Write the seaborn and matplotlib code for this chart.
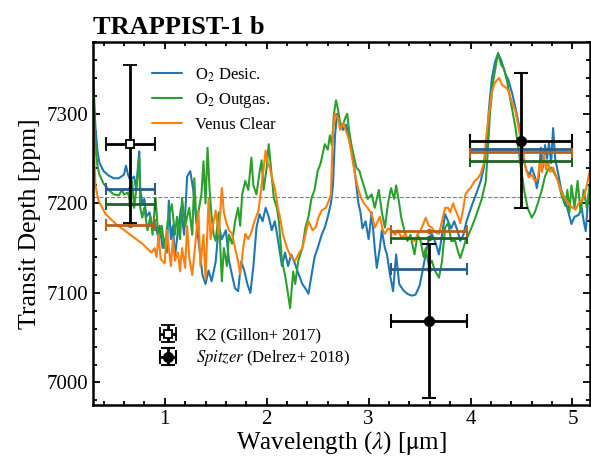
import numpy as np
import pandas as pd
import matplotlib
matplotlib.use("Agg")
import matplotlib.pyplot as plt
from matplotlib.ticker import MultipleLocator
import seaborn as sns

# ---------------- data ----------------
lam_desic = [0.30,0.31,0.32,0.34,0.36,0.40,0.45,0.50,0.55,0.60,0.62,0.64,0.66,0.70,0.72,0.74,0.75,0.76,0.78,0.80,
             0.82,0.85,0.88,0.90,0.93,0.95,0.98,1.00,1.02,1.04,1.06,1.08,1.10,1.13,1.16,1.19,1.22,1.25,1.28,1.31,
             1.34,1.37,1.40,1.43,1.46,1.50,1.53,1.56,1.60,1.63,1.66,1.69,1.72,1.75,1.78,1.81,1.84,1.87,1.90,1.93,
             1.96,1.99,2.02,2.05,2.08,2.11,2.15,2.18,2.21,2.24,2.27,2.31,2.35,2.38,2.41,2.44,2.47,2.50,2.54,2.57,
             2.60,2.63,2.65,2.67,2.69,2.72,2.75,2.78,2.81,2.84,2.87,2.90,2.92,2.94,2.97,3.00,3.03,3.06,3.08,3.11,
             3.13,3.16,3.18,3.21,3.24,3.27,3.30,3.34,3.38,3.42,3.46,3.50,3.53,3.56,3.59,3.62,3.66,3.69,3.72,3.75,
             3.78,3.81,3.84,3.87,3.90,3.93,3.96,3.99,4.02,4.06,4.10,4.13,4.16,4.18,4.21,4.24,4.27,4.30,4.34,4.37,
             4.41,4.44,4.47,4.50,4.53,4.55,4.58,4.60,4.63,4.65,4.67,4.69,4.71,4.73,4.75,4.77,4.79,4.81,4.83,4.86,
             4.89,4.93,4.96,4.99,5.02,5.06,5.09,5.11,5.13,5.15,5.17]
depth_desic = [7340,7310,7285,7258,7245,7236,7231,7228,7228,7232,7242,7232,7226,7230,7215,7245,7258,7215,7200,7205,
               7185,7190,7172,7180,7165,7175,7150,7160,7145,7203,7160,7175,7140,7170,7195,7165,7230,7236,7215,7180,
               7150,7120,7110,7125,7113,7135,7175,7160,7170,7136,7120,7105,7102,7135,7125,7110,7100,7130,7173,7188,
               7180,7195,7185,7170,7180,7160,7130,7145,7130,7143,7135,7122,7110,7105,7099,7120,7140,7150,7165,7173,
               7185,7200,7220,7275,7300,7290,7282,7288,7270,7255,7230,7200,7190,7172,7180,7160,7190,7150,7128,7150,
               7170,7150,7143,7120,7102,7143,7110,7103,7099,7097,7098,7108,7125,7143,7160,7166,7155,7143,7165,7188,
               7180,7172,7180,7170,7158,7165,7180,7190,7200,7212,7225,7240,7270,7305,7340,7358,7367,7360,7345,7338,
               7322,7307,7290,7268,7245,7236,7232,7240,7230,7217,7230,7262,7240,7265,7250,7268,7245,7284,7250,7233,
               7215,7203,7190,7177,7185,7187,7195,7180,7169,7200,7221]

lam_outgas = [0.30,0.31,0.32,0.34,0.36,0.40,0.45,0.50,0.55,0.58,0.60,0.64,0.66,0.68,0.70,0.72,0.74,0.75,0.76,0.78,
              0.80,0.83,0.86,0.88,0.91,0.94,0.97,1.00,1.03,1.07,1.10,1.12,1.15,1.17,1.20,1.24,1.27,1.29,1.31,1.33,
              1.36,1.38,1.40,1.42,1.44,1.46,1.48,1.50,1.53,1.56,1.58,1.61,1.63,1.66,1.69,1.72,1.74,1.76,1.79,1.82,
              1.85,1.87,1.90,1.93,1.95,1.97,2.00,2.02,2.05,2.07,2.10,2.12,2.15,2.18,2.20,2.23,2.26,2.28,2.31,2.35,
              2.38,2.41,2.44,2.47,2.50,2.53,2.57,2.60,2.62,2.64,2.66,2.68,2.70,2.72,2.74,2.77,2.79,2.81,2.83,2.86,
              2.88,2.91,2.93,2.96,2.99,3.03,3.06,3.10,3.13,3.16,3.19,3.22,3.25,3.27,3.30,3.32,3.35,3.38,3.41,3.45,
              3.48,3.51,3.54,3.56,3.59,3.62,3.65,3.69,3.72,3.75,3.78,3.81,3.85,3.88,3.90,3.93,3.95,3.98,4.01,4.05,
              4.08,4.11,4.15,4.17,4.19,4.22,4.25,4.27,4.30,4.33,4.36,4.40,4.44,4.47,4.50,4.53,4.56,4.60,4.63,4.66,
              4.70,4.73,4.76,4.79,4.83,4.86,4.89,4.93,4.95,4.97,4.99,5.02,5.05,5.08,5.11,5.14,5.17]
depth_outgas = [7330,7295,7262,7242,7232,7222,7215,7210,7209,7215,7210,7212,7200,7225,7195,7215,7240,7250,7195,7184,
                7195,7170,7185,7165,7206,7158,7175,7150,7180,7199,7165,7185,7160,7206,7175,7195,7165,7228,7180,7190,
                7210,7247,7200,7262,7215,7185,7165,7158,7190,7113,7150,7130,7165,7155,7180,7195,7175,7210,7225,7215,
                7251,7220,7210,7235,7248,7215,7240,7266,7230,7206,7195,7180,7136,7120,7106,7083,7124,7110,7136,7150,
                7173,7185,7206,7215,7236,7245,7266,7260,7276,7265,7300,7315,7305,7290,7285,7295,7300,7280,7266,7250,
                7240,7236,7228,7217,7205,7210,7195,7215,7190,7173,7200,7217,7205,7220,7200,7184,7170,7158,7165,7143,
                7165,7158,7140,7150,7130,7136,7125,7117,7135,7173,7178,7158,7158,7145,7139,7150,7158,7165,7173,7185,
                7195,7205,7225,7260,7300,7335,7355,7368,7355,7350,7335,7310,7285,7260,7235,7212,7195,7184,7190,7200,
                7215,7230,7238,7240,7232,7225,7210,7197,7215,7190,7220,7195,7225,7190,7215,7195,7220]

lam_venus = [0.30,0.31,0.32,0.35,0.42,0.52,0.65,0.78,0.87,0.90,0.92,0.94,0.96,1.00,1.02,1.04,1.06,1.08,1.10,1.13,
             1.15,1.17,1.20,1.22,1.24,1.27,1.30,1.33,1.35,1.38,1.40,1.43,1.45,1.48,1.50,1.53,1.56,1.58,1.60,1.63,
             1.66,1.69,1.72,1.74,1.77,1.79,1.82,1.85,1.88,1.92,1.95,1.97,1.99,2.01,2.03,2.06,2.08,2.11,2.13,2.16,
             2.20,2.24,2.28,2.32,2.35,2.38,2.41,2.45,2.48,2.51,2.54,2.58,2.61,2.63,2.65,2.67,2.70,2.72,2.75,2.78,
             2.81,2.84,2.87,2.90,2.93,2.96,2.99,3.03,3.06,3.09,3.11,3.14,3.16,3.19,3.22,3.26,3.29,3.32,3.36,3.39,
             3.42,3.45,3.48,3.51,3.54,3.56,3.59,3.62,3.65,3.69,3.72,3.75,3.78,3.80,3.83,3.85,3.88,3.90,3.93,3.95,
             3.98,4.00,4.04,4.07,4.10,4.13,4.15,4.18,4.21,4.24,4.28,4.31,4.34,4.37,4.40,4.44,4.47,4.51,4.54,4.57,
             4.60,4.63,4.66,4.68,4.70,4.72,4.74,4.76,4.78,4.81,4.84,4.87,4.90,4.93,4.96,5.00,5.03,5.06,5.09,5.12,
             5.15,5.17]
depth_venus = [7290,7250,7220,7203,7188,7177,7166,7155,7145,7150,7140,7165,7138,7133,7170,7150,7130,7160,7136,7145,
               7124,7150,7128,7175,7140,7120,7155,7192,7130,7165,7115,7205,7160,7180,7192,7165,7217,7190,7180,7170,
               7166,7150,7135,7121,7150,7166,7160,7168,7180,7192,7220,7240,7259,7245,7240,7225,7217,7195,7185,7165,
               7150,7140,7136,7145,7150,7165,7180,7170,7173,7185,7192,7195,7203,7210,7280,7300,7295,7282,7290,7280,
               7270,7250,7230,7215,7205,7199,7195,7188,7173,7180,7185,7170,7166,7172,7170,7165,7170,7162,7165,7160,
               7160,7158,7165,7170,7178,7184,7175,7173,7168,7166,7180,7195,7195,7190,7200,7193,7185,7178,7195,7210,
               7215,7217,7225,7228,7233,7245,7270,7300,7325,7335,7340,7332,7330,7326,7315,7303,7285,7259,7240,7229,
               7232,7225,7228,7245,7235,7255,7238,7248,7235,7240,7230,7220,7210,7205,7200,7195,7193,7200,7203,7210,
               7225,7237]

model_names = ["O$_2$ Desic.", "O$_2$ Outgas.", "Venus Clear"]
model_colors = ["#1f77b4", "#2ca02c", "#ff7f0e"]
bin_colors = ["#2b5d87", "#1f6421", "#b8611a"]

# band-integrated model values (K2, Spitzer 3.6, Spitzer 4.5)
band_center = [0.66, 3.595, 4.495]
band_halfwidth = [0.24, 0.375, 0.505]
bin_desic = [7216, 7127, 7261]
bin_outgas = [7199, 7161, 7247]
bin_venus = [7176, 7169, 7257]

# observations
k2_x, k2_y, k2_xerr, k2_yerr = [0.66], [7266], [0.24], [88]
spz_x = [3.595, 4.495]
spz_y = [7069, 7270]
spz_xerr = [0.375, 0.505]
spz_yerr = [86, 75]

flat_level = 7207

# ---------------- plot ----------------
sns.set_style("ticks")
plt.rcParams["font.family"] = ["Liberation Serif", "DejaVu Serif"]
plt.rcParams["mathtext.fontset"] = "stix"
plt.rcParams["xtick.direction"] = "in"
plt.rcParams["ytick.direction"] = "in"
plt.rcParams["text.color"] = "black"
plt.rcParams["axes.labelcolor"] = "black"
plt.rcParams["xtick.color"] = "black"
plt.rcParams["ytick.color"] = "black"
plt.rcParams["axes.edgecolor"] = "black"

fig = plt.figure(figsize=(5.91, 4.58), dpi=100)
ax = fig.add_axes([0.158, 0.116, 0.84, 0.792])

frames = []
for lam, dep, name in [(lam_desic, depth_desic, model_names[0]),
                       (lam_outgas, depth_outgas, model_names[1]),
                       (lam_venus, depth_venus, model_names[2])]:
    frames.append(pd.DataFrame({"lam": lam, "depth": dep, "model": name}))
df = pd.concat(frames, ignore_index=True)

sns.lineplot(data=df, x="lam", y="depth", hue="model", hue_order=model_names,
             palette=model_colors, estimator=None, sort=False, lw=1.5, ax=ax)

ax.axhline(flat_level, color="0.5", ls="--", lw=0.8, zorder=1)

for vals, col in zip([bin_desic, bin_outgas, bin_venus], bin_colors):
    ax.errorbar(band_center, vals, xerr=band_halfwidth, fmt="o", ms=3, color=col,
                ecolor=col, elinewidth=2, capsize=4, capthick=1.5, zorder=4)

h_k2 = ax.errorbar(k2_x, k2_y, xerr=k2_xerr, yerr=k2_yerr, fmt="s", ms=6, mfc="white",
                   mec="black", mew=1.3, ecolor="black", elinewidth=2, capsize=5,
                   capthick=1.5, zorder=6)
h_spz = ax.errorbar(spz_x, spz_y, xerr=spz_xerr, yerr=spz_yerr, fmt="o", ms=7, color="black",
                    ecolor="black", elinewidth=2, capsize=5, capthick=1.5, zorder=6)

ax.set_xlim(0.3, 5.17)
ax.set_ylim(6975, 7380)
ax.xaxis.set_major_locator(MultipleLocator(1))
ax.xaxis.set_minor_locator(MultipleLocator(0.2))
ax.yaxis.set_major_locator(MultipleLocator(100))
ax.yaxis.set_minor_locator(MultipleLocator(20))
ax.tick_params(which="both", top=True, right=True, direction="in", labelsize=15, width=1.3,
               colors="black")
ax.tick_params(which="major", length=5)
ax.tick_params(which="minor", length=3)
for s in ax.spines.values():
    s.set_linewidth(1.8)
    s.set_color("black")

ax.set_xlabel(r"Wavelength ($\lambda$) [$\mathrm{\mu}$m]", fontsize=18, labelpad=0)
ax.set_ylabel("Transit Depth [ppm]", fontsize=18.5, labelpad=4)
ax.set_title("TRAPPIST-1 b", loc="left", fontsize=19, fontweight="bold", pad=6)

line_handles, line_labels = ax.get_legend_handles_labels()
leg1 = ax.legend(line_handles[:3], model_names, loc="upper left",
                 bbox_to_anchor=(0.088, 0.975), frameon=False, fontsize=12,
                 handlelength=1.8, labelspacing=0.42)
ax.add_artist(leg1)
ax.legend([h_k2, h_spz], ["K2 (Gillon+ 2017)", r"$\it{Spitzer}$ (Delrez+ 2018)"],
          loc="upper left", bbox_to_anchor=(0.09, 0.255), frameon=False, fontsize=12,
          handlelength=1.8, labelspacing=0.3)

fig.savefig("out.png", dpi=100)
